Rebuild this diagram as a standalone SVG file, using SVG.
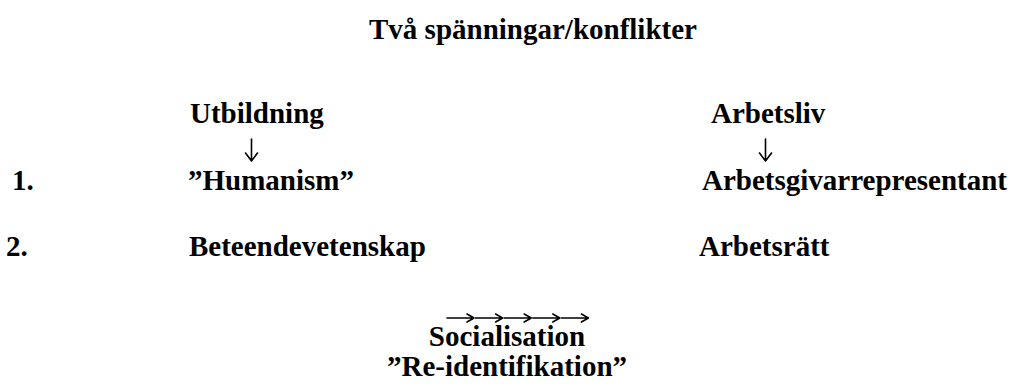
<svg xmlns="http://www.w3.org/2000/svg" width="1014" height="392" viewBox="0 0 1014 392">
<style>
text{font-family:"Liberation Serif","Times New Roman",serif;font-size:29px;font-weight:bold;fill:#000}
.mid{text-anchor:middle}
.arr{fill:none;stroke:#000;stroke-width:1.6;stroke-linecap:round;stroke-linejoin:round}
</style>
<defs>
<path id="down" class="arr" d="M0,-22 V0 M-6,-8 L0,0 L6,-8"/>
<path id="right" class="arr" d="M0,0 H27 M20,-4 L27,0 L20,4"/>
</defs>
<rect width="1014" height="392" fill="#fff"/>
<g id="title"><text x="369" y="39">Två spänningar/konflikter</text></g>
<g id="utbildning"><text x="190" y="123">Utbildning</text></g>
<g id="arbetsliv"><text x="711" y="123">Arbetsliv</text></g>
<g id="num1"><text x="12" y="190">1.</text></g>
<g id="humanism"><text x="188" y="190">”Humanism”</text></g>
<g id="arbetsgivarrepresentant"><text x="702" y="190">Arbetsgivarrepresentant</text></g>
<g id="num2"><text x="6" y="256">2.</text></g>
<g id="beteendevetenskap"><text x="189" y="256">Beteendevetenskap</text></g>
<g id="arbetsratt"><text x="699" y="256">Arbetsrätt</text></g>
<g id="socialisation"><text class="mid" x="507" y="346">Socialisation</text></g>
<g id="reidentifikation"><text class="mid" x="507" y="376">”Re-identifikation”</text></g>
<g id="connectors">
<use href="#down" x="251.5" y="161"/>
<use href="#down" x="765.5" y="161"/>
<use href="#right" x="447" y="318"/>
<use href="#right" x="475.6" y="318"/>
<use href="#right" x="504.2" y="318"/>
<use href="#right" x="532.8" y="318"/>
<use href="#right" x="561.4" y="318"/>
</g>
</svg>
